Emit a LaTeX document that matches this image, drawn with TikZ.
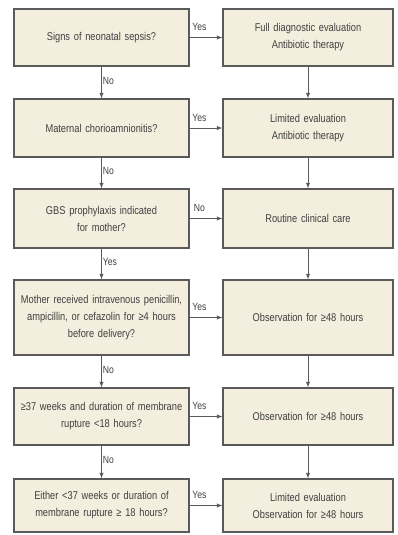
\documentclass[tikz,border=0pt]{standalone}
\usepackage{fontspec}
\setmainfont[FakeStretch=0.82]{Liberation Sans}
\usetikzlibrary{arrows}

\definecolor{boxfill}{HTML}{F3EEDD}
\definecolor{boxline}{HTML}{5A5A5A}
\definecolor{txt}{HTML}{404040}

\tikzstyle{question}=[draw=boxline,fill=boxfill,rectangle,line width=1.1pt,minimum width=175pt,text width=172pt,align=center,inner sep=0pt,text=txt,font=\fontsize{11.3}{17}\selectfont]
\tikzstyle{action}=[draw=boxline,fill=boxfill,rectangle,line width=1.1pt,minimum width=170pt,text width=167pt,align=center,inner sep=0pt,text=txt,font=\fontsize{11.3}{17}\selectfont]
\tikzstyle{link}=[->,>=latex,line width=0.9pt,draw=boxline]
\tikzstyle{answer}=[text=txt,font=\fontsize{10.5}{11}\selectfont,inner sep=1pt]

\begin{document}
\begin{tikzpicture}[x=1pt,y=1pt]
      \useasboundingbox (0,0) rectangle (397,-535);
      % left column: questions
      \node [question,minimum height=57pt] (q1) at (101.5,-37.5) {Signs of neonatal sepsis?};
      \node [question,minimum height=58pt] (q2) at (101.5,-128) {Maternal chorioamnionitis?};
      \node [question,minimum height=59pt] (q3) at (101.5,-218.5) {GBS prophylaxis indicated\\for mother?};
      \node [question,minimum height=75pt] (q4) at (101.5,-317.5) {Mother received intravenous penicillin,\\ampicillin, or cefazolin for ≥4 hours\\before delivery?};
      \node [question,minimum height=57pt] (q5) at (101.5,-416.5) {≥37 weeks and duration of membrane\\rupture <18 hours?};
      \node [question,minimum height=53pt] (q6) at (101.5,-505.5) {Either <37 weeks or duration of\\membrane rupture ≥ 18 hours?};
      % right column: actions
      \node [action,minimum height=57pt] (a1) at (308,-37.5) {Full diagnostic evaluation\\Antibiotic therapy};
      \node [action,minimum height=58pt] (a2) at (308,-128) {Limited evaluation\\Antibiotic therapy};
      \node [action,minimum height=59pt] (a3) at (308,-218.5) {Routine clinical care};
      \node [action,minimum height=75pt] (a4) at (308,-317.5) {Observation for ≥48 hours};
      \node [action,minimum height=57pt] (a5) at (308,-416.5) {Observation for ≥48 hours};
      \node [action,minimum height=53pt] (a6) at (308,-505.5) {Limited evaluation\\Observation for ≥48 hours};

      % down the questions
      \draw [link] (q1) -- node[answer,right,yshift=2pt] {No} (q2);
      \draw [link] (q2) -- node[answer,right,yshift=2pt] {No} (q3);
      \draw [link] (q3) -- node[answer,right,yshift=2pt] {Yes} (q4);
      \draw [link] (q4) -- node[answer,right,yshift=2pt] {No} (q5);
      \draw [link] (q5) -- node[answer,right,yshift=2pt] {No} (q6);
      % across to the actions
      \draw [link] (q1) -- node[answer,above,pos=0.3,yshift=5pt] {Yes} (a1);
      \draw [link] (q2) -- node[answer,above,pos=0.3,yshift=5pt] {Yes} (a2);
      \draw [link] (q3) -- node[answer,above,pos=0.3,yshift=5pt] {No} (a3);
      \draw [link] (q4) -- node[answer,above,pos=0.3,yshift=5pt] {Yes} (a4);
      \draw [link] (q5) -- node[answer,above,pos=0.3,yshift=5pt] {Yes} (a5);
      \draw [link] (q6) -- node[answer,above,pos=0.3,yshift=5pt] {Yes} (a6);
      % down the actions
      \draw [link] (a1) -- (a2);
      \draw [link] (a2) -- (a3);
      \draw [link] (a3) -- (a4);
      \draw [link] (a4) -- (a5);
      \draw [link] (a5) -- (a6);
    \end{tikzpicture}
\end{document}
